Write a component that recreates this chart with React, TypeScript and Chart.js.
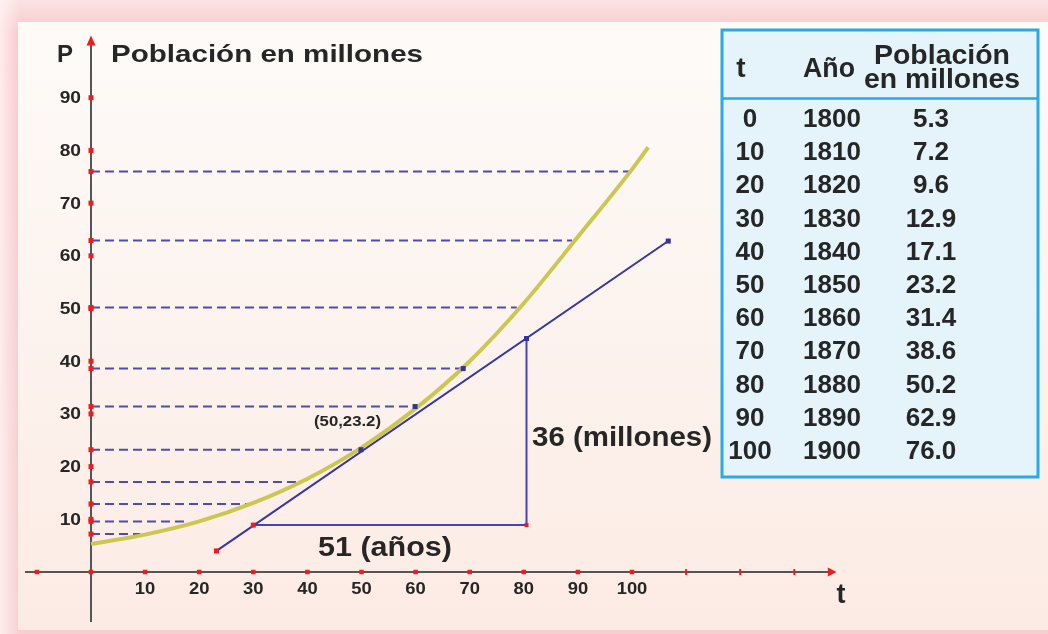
import React, { useEffect, useRef } from "react";
import { Chart, registerables } from "chart.js";
Chart.register(...registerables);

// ---- data ----
const tValues = [0, 10, 20, 30, 40, 50, 60, 70, 80, 90, 100];
const years = [1800, 1810, 1820, 1830, 1840, 1850, 1860, 1870, 1880, 1890, 1900];
const population = [5.3, 7.2, 9.6, 12.9, 17.1, 23.2, 31.4, 38.6, 50.2, 62.9, 76.0];

// fitted curve, points
const curveT = [0, 10, 20, 30, 40, 50, 60, 70, 80, 90, 100, 103.0];
const curveP = [5.3, 7.1, 9.6, 13.1, 17.7, 23.6, 31.0, 40.0, 51.0, 63.6, 76.4, 80.6];

// where each dashed guide (population[1..]) ends on the t axis
const dashEnds = [9.1, 17.9, 29.0, 38.1, 49.9, 59.9, 68.8, 78.7, 88.9, 99.6];
const dashMarked = [23.2, 31.4, 38.6];

// tangent line and slope triangle
const tangentT = [23.2, 106.7];
const tangentP = [4.0, 62.8];
const triangleT = [30, 80.5, 80.5];
const triangleP = [8.9, 8.9, 44.3];

const yTicks = [10, 20, 30, 40, 50, 60, 70, 80, 90];
const xTicks = [-10, 0, 10, 20, 30, 40, 50, 60, 70, 80, 90, 100];
const xLabels = [10, 20, 30, 40, 50, 60, 70, 80, 90, 100];
const xMinor = [110, 120, 130];

const FONT = '"Liberation Sans", Arial, Helvetica, sans-serif';
const INK = "#262626";

function txt(
  ctx: CanvasRenderingContext2D,
  s: string,
  x: number,
  y: number,
  size: number,
  align: "left" | "center" | "right",
  opt: { width?: number; sx?: number; color?: string } = {}
) {
  ctx.save();
  ctx.font = `bold ${size}px ${FONT}`;
  ctx.fillStyle = opt.color || INK;
  ctx.textBaseline = "alphabetic";
  ctx.textAlign = "left";
  const w = ctx.measureText(s).width;
  const sx = opt.width ? opt.width / w : opt.sx || 1;
  const dw = w * sx;
  const left = align === "left" ? x : align === "center" ? x - dw / 2 : x - dw;
  ctx.translate(left, y);
  ctx.scale(sx, 1);
  ctx.fillText(s, 0, 0);
  ctx.restore();
}

function sq(ctx: CanvasRenderingContext2D, x: number, y: number, s: number, c: string) {
  ctx.fillStyle = c;
  ctx.fillRect(x - s / 2, y - s / 2, s, s);
}

const backgroundPlugin = {
  id: "bgAxes",
  beforeDraw(chart: any) {
    const ctx: CanvasRenderingContext2D = chart.ctx;
    const W = chart.width;
    const H = chart.height;
    ctx.save();
    const g = ctx.createLinearGradient(0, 0, 0, H);
    g.addColorStop(0, "#fbe3e3");
    g.addColorStop(0.05, "#f8c9ca");
    g.addColorStop(1, "#f8cfd0");
    ctx.fillStyle = g;
    ctx.fillRect(0, 0, W, H);
    const gl = ctx.createLinearGradient(0, 0, 20, 0);
    gl.addColorStop(0, "rgba(255,245,245,0.8)");
    gl.addColorStop(1, "rgba(255,245,245,0)");
    ctx.fillStyle = gl;
    ctx.fillRect(0, 0, 20, H);
    const p = ctx.createLinearGradient(0, 22, 0, 630);
    p.addColorStop(0, "#fdfbf8");
    p.addColorStop(1, "#fcebe4");
    ctx.fillStyle = p;
    ctx.fillRect(18, 22, W - 18, 608);
    ctx.restore();
  },
  beforeDatasetsDraw(chart: any) {
    const ctx: CanvasRenderingContext2D = chart.ctx;
    const xs = chart.scales.x;
    const ys = chart.scales.y;
    const X = (v: number) => xs.getPixelForValue(v);
    const Y = (v: number) => ys.getPixelForValue(v);
    ctx.save();
    ctx.strokeStyle = "#555555";
    ctx.lineWidth = 2;
    ctx.beginPath();
    ctx.moveTo(X(-12.2), Y(0));
    ctx.lineTo(X(136.5), Y(0));
    ctx.stroke();
    ctx.beginPath();
    ctx.moveTo(X(0), Y(-9.5));
    ctx.lineTo(X(0), Y(100.5));
    ctx.stroke();
    ctx.fillStyle = "#ee1c1c";
    ctx.beginPath();
    ctx.moveTo(X(0), Y(101.8));
    ctx.lineTo(X(0) - 4.5, Y(99.9));
    ctx.lineTo(X(0) + 4.5, Y(99.9));
    ctx.closePath();
    ctx.fill();
    ctx.beginPath();
    ctx.moveTo(X(137.8), Y(0));
    ctx.lineTo(X(136.2), Y(0) - 4.5);
    ctx.lineTo(X(136.2), Y(0) + 4.5);
    ctx.closePath();
    ctx.fill();
    ctx.restore();
  },
  afterDatasetsDraw(chart: any) {
    const ctx: CanvasRenderingContext2D = chart.ctx;
    const xs = chart.scales.x;
    const ys = chart.scales.y;
    const X = (v: number) => xs.getPixelForValue(v);
    const Y = (v: number) => ys.getPixelForValue(v);
    const RED = "#ee1c1c";
    const BLUE = "#33339c";
    ctx.save();
    yTicks.forEach((v) => {
      sq(ctx, X(0), Y(v), 5, RED);
      txt(ctx, String(v), X(0) - 10, Y(v) + 5.5, 16, "right", { sx: 1.2 });
    });
    population.slice(1).forEach((v) => sq(ctx, X(0), Y(v), 5, RED));
    xTicks.forEach((v) => sq(ctx, X(v), Y(0), 4.5, RED));
    xMinor.forEach((v) => {
      ctx.fillStyle = RED;
      ctx.fillRect(X(v) - 1, Y(0) - 3, 2, 6);
    });
    xLabels.forEach((v) => txt(ctx, String(v), X(v), Y(0) + 22, 16, "center", { sx: 1.15 }));
    sq(ctx, X(tangentT[0]), Y(tangentP[0]), 5, RED);
    sq(ctx, X(triangleT[0]), Y(triangleP[0]), 5, RED);
    sq(ctx, X(triangleT[1]), Y(triangleP[1]), 4, RED);
    sq(ctx, X(triangleT[2]), Y(triangleP[2]), 5, BLUE);
    sq(ctx, X(tangentT[1]), Y(tangentP[1]), 5, BLUE);
    population.slice(1).forEach((v, i) => {
      if (dashMarked.includes(v)) sq(ctx, X(dashEnds[i]), Y(v), 5, BLUE);
    });
    txt(ctx, "P", 57, 62, 24, "left");
    txt(ctx, "Población en millones", 111, 62, 24, "left", { width: 312 });
    txt(ctx, "(50,23.2)", 314, 426, 14, "left", { width: 67 });
    txt(ctx, "36 (millones)", 532, 446, 27, "left", { width: 180 });
    txt(ctx, "51 (años)", 318, 556, 27, "left", { width: 134 });
    txt(ctx, "t", 841, 603, 27, "center");

    const L = 722, T = 30, R = 1038, B = 477;
    ctx.fillStyle = "#e5f3fb";
    ctx.fillRect(L, T, R - L, B - T);
    ctx.strokeStyle = "#29aae2";
    ctx.lineWidth = 3;
    ctx.strokeRect(L, T, R - L, B - T);
    ctx.lineWidth = 2.5;
    ctx.beginPath();
    ctx.moveTo(L, 98.5);
    ctx.lineTo(R, 98.5);
    ctx.stroke();
    txt(ctx, "t", 741, 77, 28, "center");
    txt(ctx, "Año", 803, 77, 28, "left", { width: 52 });
    txt(ctx, "Población", 874, 64, 28, "left", { width: 136 });
    txt(ctx, "en millones", 864, 88, 28, "left", { width: 156 });
    tValues.forEach((t, i) => {
      const by = 127 + i * 33.2;
      txt(ctx, String(t), 750, by, 26, "center");
      txt(ctx, String(years[i]), 803, by, 26, "left");
      txt(ctx, population[i].toFixed(1), 931, by, 26, "center");
    });
    ctx.restore();
  },
};

export default function App() {
  const ref = useRef<HTMLCanvasElement | null>(null);
  useEffect(() => {
    if (!ref.current) return;
    const pts = (ts: number[], ps: number[]) => ts.map((t, i) => ({ x: t, y: ps[i] }));
    const dashed = population.slice(1).map((v, i) => ({
      data: [
        { x: 0, y: v },
        { x: dashEnds[i], y: v },
      ],
      borderColor: "#4d4db0",
      borderWidth: 2,
      borderDash: [9, 5],
      pointRadius: 0,
      showLine: true,
      order: 5,
    }));
    const chart = new Chart(ref.current, {
      type: "scatter",
      data: {
        datasets: [
          {
            data: pts(triangleT, triangleP),
            borderColor: "#4a42b0",
            borderWidth: 2,
            pointRadius: 0,
            showLine: true,
            order: 3,
          },
          {
            data: pts(tangentT, tangentP),
            borderColor: "#3535a5",
            borderWidth: 2,
            pointRadius: 0,
            showLine: true,
            order: 2,
          },
          {
            data: pts(curveT, curveP),
            borderColor: "#cdc752",
            borderWidth: 4,
            pointRadius: 0,
            showLine: true,
            cubicInterpolationMode: "monotone",
            order: 1,
          },
          ...dashed,
        ] as any,
      },
      options: {
        animation: false,
        responsive: false,
        devicePixelRatio: 1,
        layout: { padding: { left: 26.08, right: 199.6, top: 34.46, bottom: 9.3 } },
        plugins: { legend: { display: false }, tooltip: { enabled: false } },
        events: [],
        scales: {
          x: { type: "linear", min: -12, max: 140, display: false },
          y: { type: "linear", min: -10, max: 102, display: false },
        },
      },
      plugins: [backgroundPlugin],
    });
    return () => chart.destroy();
  }, []);
  return (
    <canvas
      ref={ref}
      width={1048}
      height={634}
      style={{ position: "fixed", left: 0, top: 0, width: 1048, height: 634, display: "block" }}
    />
  );
}
